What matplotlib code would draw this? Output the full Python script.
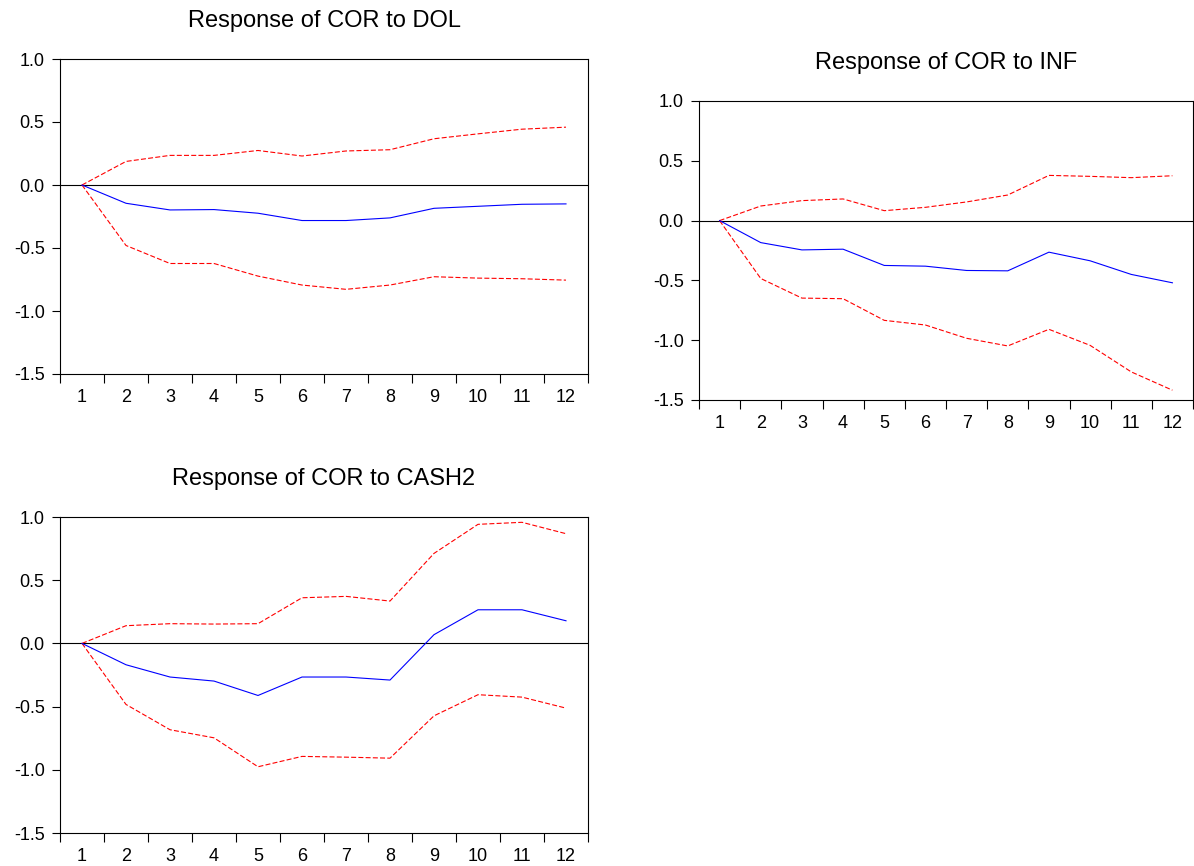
import matplotlib
matplotlib.use('Agg')
import matplotlib.pyplot as plt
import numpy as np

plt.rcParams['font.family'] = ['Liberation Sans', 'DejaVu Sans']

periods = list(range(1, 13))

# Response of COR to DOL
dol_resp = [0.0, -0.145, -0.198, -0.195, -0.224, -0.282, -0.282, -0.261, -0.185, -0.169, -0.153, -0.150]
dol_upper = [0.0, 0.187, 0.235, 0.235, 0.274, 0.230, 0.270, 0.280, 0.367, 0.406, 0.443, 0.459]
dol_lower = [0.0, -0.480, -0.623, -0.623, -0.723, -0.794, -0.828, -0.794, -0.728, -0.739, -0.744, -0.755]

# Response of COR to INF
inf_resp = [0.0, -0.184, -0.245, -0.239, -0.375, -0.381, -0.417, -0.420, -0.264, -0.336, -0.450, -0.520]
inf_upper = [0.0, 0.122, 0.167, 0.181, 0.083, 0.111, 0.156, 0.214, 0.378, 0.370, 0.359, 0.375]
inf_lower = [0.0, -0.484, -0.648, -0.653, -0.834, -0.873, -0.984, -1.048, -0.909, -1.043, -1.265, -1.418]

# Response of COR to CASH2
cash_resp = [0.0, -0.169, -0.266, -0.298, -0.412, -0.266, -0.266, -0.290, 0.069, 0.266, 0.266, 0.179]
cash_upper = [0.0, 0.140, 0.156, 0.153, 0.156, 0.361, 0.372, 0.335, 0.712, 0.942, 0.958, 0.868]
cash_lower = [0.0, -0.483, -0.683, -0.747, -0.976, -0.894, -0.900, -0.908, -0.573, -0.406, -0.425, -0.512]

titles = ['Response of COR to DOL', 'Response of COR to INF', 'Response of COR to CASH2']
yticks = [-1.5, -1.0, -0.5, 0.0, 0.5, 1.0]

W, H = 1194, 866


def draw_panel(fig, box, title, resp, upper, lower):
    # box = left, top, right, bottom in pixels
    l, t, r, b = box
    ax = fig.add_axes([l / W, 1 - b / H, (r - l) / W, (b - t) / H])
    ax.axhline(0, color='black', lw=0.8)
    ax.plot(periods, upper, color='red', lw=0.8, dashes=(4.5, 2))
    ax.plot(periods, lower, color='red', lw=0.8, dashes=(4.5, 2))
    ax.plot(periods, resp, color='blue', lw=0.8)
    ax.set_xlim(0.5, 12.5)
    ax.set_ylim(-1.5, 1.0)
    ax.set_yticks(yticks)
    ax.set_yticklabels(['%.1f' % v for v in yticks])
    ax.set_xticks(periods)
    ax.set_xticklabels([str(p) for p in periods])
    ax.set_xticks(np.arange(0.5, 13.0, 1.0), minor=True)
    ax.tick_params(axis='x', which='major', length=0, pad=11, labelsize=13)
    ax.tick_params(axis='x', which='minor', length=6.5, width=0.8, direction='out')
    ax.tick_params(axis='y', which='major', length=6, width=0.8, pad=5, labelsize=13)
    for s in ax.spines.values():
        s.set_linewidth(0.8)
    ax.text(0.5, 1 + 38.0 / (b - t), title, transform=ax.transAxes,
            ha='center', va='center', fontsize=17)
    return ax


fig = plt.figure(figsize=(W / 100, H / 100), dpi=100)
draw_panel(fig, (60, 59, 588, 374), titles[0], dol_resp, dol_upper, dol_lower)
draw_panel(fig, (699, 101, 1193, 400), titles[1], inf_resp, inf_upper, inf_lower)
draw_panel(fig, (60, 517, 588, 833), titles[2], cash_resp, cash_upper, cash_lower)

fig.savefig('out.png', dpi=100)
